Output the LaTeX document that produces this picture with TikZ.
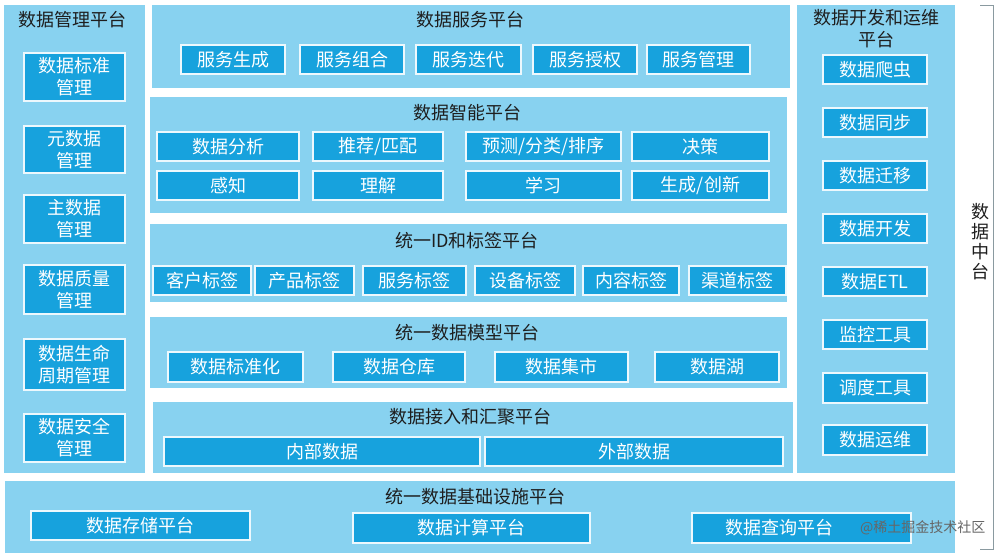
\documentclass[tikz,border=0pt]{standalone}
\usepackage{fontspec}
\setmainfont{Noto Sans CJK SC}
\definecolor{panelc}{HTML}{88D2F0}
\definecolor{boxc}{HTML}{17A2DD}
\definecolor{ttlc}{HTML}{1E1E1E}
\definecolor{brk}{HTML}{8A9AA0}
\tikzset{
  panelbox/.style={fill=panelc, draw=none, inner sep=0pt, outer sep=0pt},
  itembox/.style={fill=boxc, draw=white!85!panelc, line width=1.3pt, text=white,
    align=center, inner sep=0pt, outer sep=0pt, font=\fontsize{18}{22}\selectfont},
  ttl/.style={text=ttlc, align=center, inner sep=0pt, font=\fontsize{18}{22}\selectfont},
}
\newcommand{\pnl}[5]{\node[panelbox, anchor=north west, minimum width={(#4-#2)*1pt}, minimum height={(#5-#3)*1pt}] (#1) at (#2,#3) {};}
\newcommand{\bx}[6]{\node[itembox, anchor=center, minimum width={(#4-#2)*1pt}, minimum height={(#5-#3)*1pt}] (#1) at ({(#2+#4)/2},{(#3+#5)/2}) {#6};}
\begin{document}
\begin{tikzpicture}[x=1pt,y=-1pt]
\useasboundingbox (0,0) rectangle (1000,558);
\fill[white] (0,0) rectangle (1000,558);
% panels
\pnl{pm}{4}{5}{145}{473}
\pnl{ps}{152}{5}{790}{88}
\pnl{pi}{150}{97}{787}{213}
\pnl{pid}{150}{224}{787}{302}
\pnl{pmod}{150}{317}{787}{388}
\pnl{pacc}{153}{402}{793}{473}
\pnl{pdev}{797}{5}{955}{473}
\pnl{pinf}{5}{481}{955}{553}
% titles
\node[ttl] (tm) at (72,20) {数据管理平台};
\node[ttl] (ts) at (470,20) {数据服务平台};
\node[ttl] (ti) at (467,113) {数据智能平台};
\node[ttl] (tid) at (467,241) {统一ID和标签平台};
\node[ttl] (tmod) at (467,333) {统一数据模型平台};
\node[ttl] (tacc) at (470,417) {数据接入和汇聚平台};
\node[ttl] (tdev) at (876,29) {数据开发和运维\\平台};
\node[ttl] (tinf) at (475,497) {统一数据基础设施平台};
% management
\bx{m1}{24}{53}{125}{101}{数据标准\\管理}
\bx{m2}{24}{126}{125}{173}{元数据\\管理}
\bx{m3}{24}{195}{125}{243}{主数据\\管理}
\bx{m4}{24}{265}{125}{314}{数据质量\\管理}
\bx{m5}{24}{339}{125}{390}{数据生命\\周期管理}
\bx{m6}{24}{414}{125}{462}{数据安全\\管理}
% service
\bx{s1}{181}{45}{285}{74}{服务生成}
\bx{s2}{300}{45}{404}{74}{服务组合}
\bx{s3}{416}{45}{521}{74}{服务迭代}
\bx{s4}{533}{45}{637}{74}{服务授权}
\bx{s5}{647}{45}{750}{74}{服务管理}
% intelligence
\bx{i1}{157}{132}{299}{161}{数据分析}
\bx{i2}{313}{132}{443}{161}{推荐/匹配}
\bx{i3}{466}{132}{621}{161}{预测/分类/排序}
\bx{i4}{632}{132}{769}{161}{决策}
\bx{i5}{157}{171}{299}{200}{感知}
\bx{i6}{313}{171}{443}{200}{理解}
\bx{i7}{466}{171}{621}{200}{学习}
\bx{i8}{632}{171}{769}{200}{生成/创新}
% ID & tags
\bx{d1}{153}{266}{251}{295}{客户标签}
\bx{d2}{255}{266}{354}{295}{产品标签}
\bx{d3}{363}{266}{466}{295}{服务标签}
\bx{d4}{475}{266}{575}{295}{设备标签}
\bx{d5}{583}{266}{679}{295}{内容标签}
\bx{d6}{689}{266}{786}{295}{渠道标签}
% model
\bx{o1}{168}{352}{303}{382}{数据标准化}
\bx{o2}{333}{352}{465}{382}{数据仓库}
\bx{o3}{495}{352}{628}{382}{数据集市}
\bx{o4}{655}{352}{779}{382}{数据湖}
% access
\bx{a1}{164}{437}{480}{466}{内部数据}
\bx{a2}{485}{437}{783}{466}{外部数据}
% dev & ops
\bx{v1}{823}{55}{927}{84}{数据爬虫}
\bx{v2}{823}{108}{927}{137}{数据同步}
\bx{v3}{823}{161}{927}{190}{数据迁移}
\bx{v4}{823}{214}{927}{243}{数据开发}
\bx{v5}{823}{267}{927}{296}{数据ETL}
\bx{v6}{823}{320}{927}{349}{监控工具}
\bx{v7}{823}{373}{927}{403}{调度工具}
\bx{v8}{823}{425}{927}{455}{数据运维}
% infrastructure
\bx{f1}{31}{511}{250}{540}{数据存储平台}
\bx{f2}{353}{513}{590}{543}{数据计算平台}
\node[itembox, minimum width=219pt, minimum height=30pt, anchor=center] (f3) at (801.5,528) {\hspace*{-44pt}数据查询平台};
% bracket
\coordinate (bt) at (980,5);
\coordinate (bb) at (980,549);
\draw[brk, line width=0.9pt] (bt) -- ++(13,0) |- (bb);
\node[ttl, font=\fontsize{18}{20}\selectfont] (dz) at (980,242) {数\\据\\中\\台};
% watermark
\node[text=black!60, inner sep=0pt, font=\fontsize{14}{16}\selectfont, anchor=west] (wm) at (860,528) {@稀土掘金技术社区};
\end{tikzpicture}
\end{document}
